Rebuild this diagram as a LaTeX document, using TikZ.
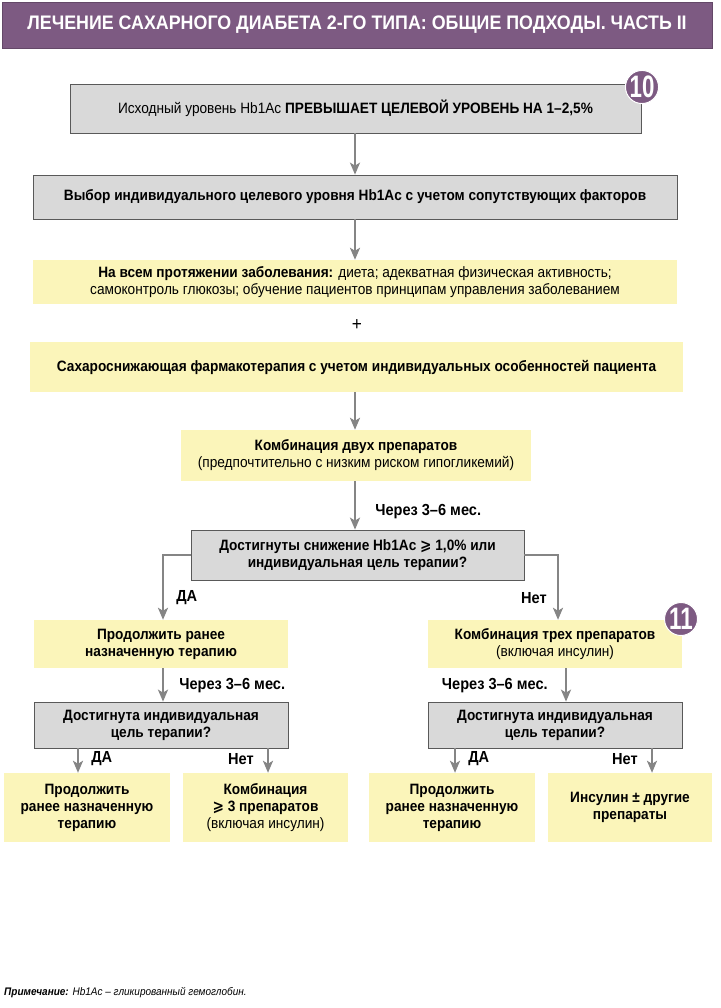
\documentclass[tikz,border=0pt]{standalone}
\usepackage{fontspec}
\setmainfont[FakeStretch=0.91]{Liberation Sans}
\newfontfamily\symfont[FakeStretch=0.91]{DejaVu Sans}
\newfontfamily\badgefont[FakeStretch=0.72]{Liberation Sans}
\usetikzlibrary{arrows.meta,shadows}
\definecolor{purp}{HTML}{7D5A82}
\definecolor{boxgrey}{HTML}{D9D9D9}
\definecolor{boxyel}{HTML}{FBF5BA}
\definecolor{arrgrey}{HTML}{858585}
\definecolor{edgec}{HTML}{595959}
\newcommand{\bodyfont}{\fontsize{15}{17}\selectfont}
\newcommand{\mygeq}{{\symfont ⩾}}
\tikzset{
  x=1pt, y=-1pt,
  base/.style={align=center, inner sep=0pt, font=\bodyfont, text=black},
  greybox/.style={base, draw=edgec, line width=0.7pt, fill=boxgrey,
     drop shadow={shadow xshift=1.3pt, shadow yshift=-1.3pt, fill=edgec, opacity=1}},
  yelbox/.style={base, fill=boxyel},
  arr/.style={draw=arrgrey, line width=2.6pt, -{Stealth[width=10pt,length=12pt,inset=3pt]}},
  lbl/.style={font=\fontsize{16}{17}\selectfont\bfseries, inner sep=0pt},
  badge/.style={circle, fill=purp, draw=white, line width=1pt, minimum size=33pt, inner sep=0pt,
     text=white, font=\badgefont\fontsize{31}{31}\selectfont\bfseries},
}
\begin{document}
\begin{tikzpicture}
\useasboundingbox (0,0) rectangle (720,1008);
% title
\node[fill=purp, draw=purp!80!black, line width=0.5pt, minimum width=710pt, minimum height=46pt, inner sep=0pt,
  text=white, font=\fontsize{19.6}{22}\selectfont\bfseries] (title) at (357,25)
  {ЛЕЧЕНИЕ САХАРНОГО ДИАБЕТА 2-ГО ТИПА: ОБЩИЕ ПОДХОДЫ. ЧАСТЬ II};

\node[greybox, minimum width=571pt, minimum height=49pt] (b1) at (355.5,108.5)
  {Исходный уровень Hb1Ac \textbf{ПРЕВЫШАЕТ ЦЕЛЕВОЙ УРОВЕНЬ НА 1–2,5\%}};
\node[badge] (n10) at (642,87) {10};

\node[greybox, minimum width=644pt, minimum height=44pt] (b2) at (355,197)
  {\bfseries Выбор индивидуального целевого уровня Hb1Ac с учетом сопутствующих факторов};

\node[yelbox, minimum width=644pt, minimum height=44pt] (b3) at (355,282)
  {\textbf{На всем протяжении заболевания:} диета; адекватная физическая активность;\\
   самоконтроль глюкозы; обучение пациентов принципам управления заболеванием};

\node[base, font=\fontsize{19}{19}\selectfont] (plus) at (357,325) {+};

\node[yelbox, minimum width=653pt, minimum height=50pt] (b4) at (356.5,367)
  {\bfseries Сахароснижающая фармакотерапия с учетом индивидуальных особенностей пациента};

\node[yelbox, minimum width=350pt, minimum height=51pt] (b5) at (356,455.5)
  {\textbf{Комбинация двух препаратов}\\(предпочтительно с низким риском гипогликемий)};

\node[greybox, minimum width=333pt, minimum height=50pt] (b6) at (357.5,555)
  {\bfseries Достигнуты снижение Hb1Ac \mygeq{} 1,0\% или\\\bfseries индивидуальная цель терапии?};

\node[yelbox, minimum width=254pt, minimum height=48pt] (b7) at (161,644)
  {\bfseries Продолжить ранее\\\bfseries назначенную терапию};
\node[yelbox, minimum width=254pt, minimum height=48pt] (b8) at (555,644)
  {\textbf{Комбинация трех препаратов}\\(включая инсулин)};
\node[badge] (n11) at (681,619) {11};

\node[greybox, minimum width=254pt, minimum height=46pt] (b9) at (161,725)
  {\bfseries Достигнута индивидуальная\\\bfseries цель терапии?};
\node[greybox, minimum width=254pt, minimum height=46pt] (b10) at (555,725)
  {\bfseries Достигнута индивидуальная\\\bfseries цель терапии?};

\node[yelbox, minimum width=166pt, minimum height=69pt] (c1) at (87,807.5)
  {\bfseries Продолжить\\\bfseries ранее назначенную\\\bfseries терапию};
\node[yelbox, minimum width=165pt, minimum height=69pt] (c2) at (265.5,807.5)
  {\textbf{Комбинация}\\\textbf{\mygeq{} 3 препаратов}\\(включая инсулин)};
\node[yelbox, minimum width=166pt, minimum height=69pt] (c3) at (452,807.5)
  {\bfseries Продолжить\\\bfseries ранее назначенную\\\bfseries терапию};
\node[yelbox, minimum width=164pt, minimum height=69pt] (c4) at (630,807.5)
  {\bfseries Инсулин ± другие\\\bfseries препараты};

% connectors
\draw[arr] (b1.south -| 355,0) -- (b2.north -| 355,0);
\draw[arr] (b2.south -| 355,0) -- (b3.north -| 355,0);
\draw[arr] (b4.south -| 355,0) -- (b5.north -| 355,0);
\draw[arr] (b5.south -| 355,0) -- node[lbl, anchor=west, xshift=19pt, yshift=-6pt] (l1) {Через 3–6 мес.} (b6.north -| 355,0);
\draw[arr] (b6.west) -| node[lbl, pos=0.83, anchor=west, xshift=12pt] (l2) {ДА} (b7.north -| 163,0);
\draw[arr] (b6.east) -| node[lbl, pos=0.83, anchor=east, xshift=-10pt] (l3) {Нет} (b8.north -| 558,0);
\draw[arr] (b7.south -| 163,0) -- node[lbl, anchor=west, xshift=15pt, yshift=-1pt] (l4) {Через 3–6 мес.} (b9.north -| 163,0);
\draw[arr] (b8.south -| 566,0) -- node[lbl, anchor=east, xshift=-17pt, yshift=-1pt] (l5) {Через 3–6 мес.} (b10.north -| 566,0);
\draw[arr] (b9.south -| 78,0) -- node[lbl, anchor=west, xshift=12pt, yshift=2pt] (l6) {ДА} (c1.north -| 78,0);
\draw[arr] (b9.south -| 268,0) -- node[lbl, anchor=east, xshift=-13pt, yshift=2pt] (l7) {Нет} (c2.north -| 268,0);
\draw[arr] (b10.south -| 455,0) -- node[lbl, anchor=west, xshift=12pt, yshift=2pt] (l8) {ДА} (c3.north -| 455,0);
\draw[arr] (b10.south -| 652,0) -- node[lbl, anchor=east, xshift=-13pt, yshift=2pt] (l9) {Нет} (c4.north -| 652,0);

% footnote
\node[anchor=west, inner sep=0pt, font=\fontsize{11}{13}\selectfont\itshape] (note) at (4,993)
  {\textbf{Примечание:} Hb1Ac – гликированный гемоглобин.};
\end{tikzpicture}
\end{document}
